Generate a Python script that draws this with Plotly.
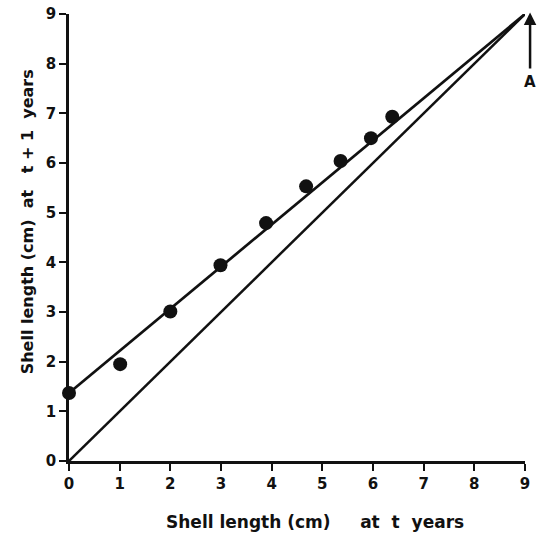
import plotly.graph_objects as go

# Shell length at age t (x) versus at age t+1 (y)
length_t = [0.0, 1.01, 2.0, 2.99, 3.89, 4.68, 5.36, 5.96, 6.38]
length_t1 = [1.37, 1.95, 3.01, 3.94, 4.79, 5.53, 6.04, 6.50, 6.93]

# Fitted Walford line and the 45-degree reference line
fit_x = [0.0, 9.0]
fit_y = [1.37, 9.0]
diag_x = [0.0, 9.0]
diag_y = [0.0, 9.0]

# Asymptotic length marker (drawn just right of the axis end)
arrow_x = 9.1
arrow_tail_y = 7.87
arrow_head_y = 9.03
arrow_label = "A"

X_MAX = 9.0
Y_MAX = 9.0
tick_vals = [0, 1, 2, 3, 4, 5, 6, 7, 8, 9]
tick_text = [str(v) for v in tick_vals]

FONT = "DejaVu Sans"
INK = "#111111"
NB = "\u00a0"

fig = go.Figure()

fig.add_trace(go.Scatter(x=diag_x, y=diag_y, mode="lines",
                         line=dict(color=INK, width=2.5), cliponaxis=False,
                         hoverinfo="skip"))
fig.add_trace(go.Scatter(x=fit_x, y=fit_y, mode="lines",
                         line=dict(color=INK, width=2.7), cliponaxis=False,
                         hoverinfo="skip"))
fig.add_trace(go.Scatter(x=length_t, y=length_t1, mode="markers",
                         marker=dict(color=INK, size=14), cliponaxis=False))

# arrow placed in axis-domain units so it may sit beyond the x range
fig.add_annotation(x=arrow_x / X_MAX, y=arrow_head_y / Y_MAX,
                   ax=arrow_x / X_MAX, ay=arrow_tail_y / Y_MAX,
                   xref="x domain", yref="y domain",
                   axref="x domain", ayref="y domain",
                   showarrow=True, arrowhead=2, arrowsize=1, arrowwidth=2.5,
                   arrowcolor=INK, text="")
fig.add_annotation(x=arrow_x / X_MAX, y=arrow_tail_y / Y_MAX,
                   xref="x domain", yref="y domain",
                   text="<b>" + arrow_label + "</b>", showarrow=False,
                   xanchor="center", yanchor="top", yshift=-1,
                   font=dict(family=FONT, size=15, color=INK))

axis_common = dict(tickvals=tick_vals, ticktext=tick_text, automargin=False,
                   showgrid=False, zeroline=False, showline=True,
                   linecolor=INK, linewidth=2.5, ticks="outside",
                   ticklen=7, tickwidth=2, tickcolor=INK,
                   tickfont=dict(family=FONT, size=15, color=INK, weight="bold"))

fig.update_xaxes(range=[0, X_MAX], **axis_common)
fig.update_yaxes(range=[0, Y_MAX], **axis_common)

x_title = NB.join(["Shell", "length", "(cm)", "", "", "", "", "at", "", "t", "", "years"])
y_title = NB.join(["Shell", "length", "(cm)", "", "at", "", "", "t", "+", "1", "", "years"])

fig.add_annotation(xref="paper", yref="paper", x=0.539, y=-0.136,
                   text="<b>" + x_title + "</b>",
                   showarrow=False, yanchor="middle",
                   font=dict(family=FONT, size=17, color=INK))
fig.add_annotation(xref="paper", yref="paper", x=-0.091, y=0.535,
                   text="<b>" + y_title + "</b>",
                   showarrow=False, textangle=-90, xanchor="center", yanchor="middle",
                   font=dict(family=FONT, size=16, color=INK))

fig.update_layout(width=537, height=551, showlegend=False,
                  plot_bgcolor="white", paper_bgcolor="white",
                  margin=dict(l=69, r=12, t=14, b=90))

fig.write_html("out.html")
